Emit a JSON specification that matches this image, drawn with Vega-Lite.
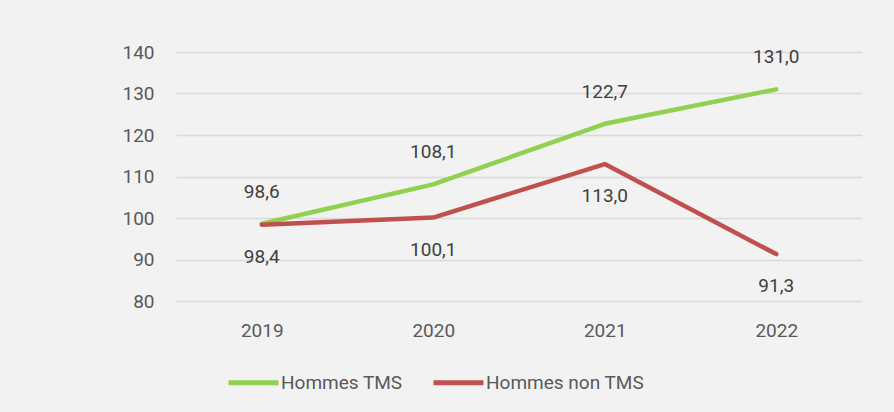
{
  "$schema": "https://vega.github.io/schema/vega-lite/v6.json",
  "width": 686,
  "height": 249,
  "autosize": {"type": "none"},
  "padding": {"left": 176, "top": 52, "right": 32, "bottom": 111},
  "background": "#f2f2f2",
  "config": {
    "view": {"stroke": null},
    "font": "Roboto",
    "locale": {"number": {"decimal": ",", "thousands": " ", "grouping": [3], "currency": ["", " €"]}}
  },
  "data": {
    "values": [
      {"year": "2019", "series": "Hommes TMS", "value": 98.6},
      {"year": "2020", "series": "Hommes TMS", "value": 108.1},
      {"year": "2021", "series": "Hommes TMS", "value": 122.7},
      {"year": "2022", "series": "Hommes TMS", "value": 131.0},
      {"year": "2019", "series": "Hommes non TMS", "value": 98.4},
      {"year": "2020", "series": "Hommes non TMS", "value": 100.1},
      {"year": "2021", "series": "Hommes non TMS", "value": 113.0},
      {"year": "2022", "series": "Hommes non TMS", "value": 91.3}
    ]
  },
  "encoding": {
    "x": {
      "field": "year", "type": "ordinal", "title": null,
      "scale": {"type": "point", "padding": 0.5},
      "axis": {"labelAngle": 0, "domain": false, "ticks": false, "labelFontSize": 19, "labelColor": "#595959", "labelPadding": 20}
    },
    "y": {
      "field": "value", "type": "quantitative", "title": null,
      "scale": {"domain": [80, 140], "nice": false, "zero": false},
      "axis": {"values": [80, 90, 100, 110, 120, 130, 140], "domain": false, "ticks": false, "labelFontSize": 19, "labelColor": "#595959", "labelPadding": 22, "gridColor": "#d9d9d9", "gridWidth": 1.5}
    }
  },
  "layer": [
    {
      "mark": {"type": "line", "strokeWidth": 4.5, "strokeCap": "round", "strokeJoin": "round"},
      "encoding": {
        "color": {
          "field": "series", "type": "nominal",
          "scale": {"domain": ["Hommes TMS", "Hommes non TMS"], "range": ["#92d050", "#c0504d"]},
          "legend": {
            "title": null, "orient": "none", "legendX": 50, "legendY": 303, "direction": "horizontal",
            "symbolType": "stroke", "symbolSize": 2500, "symbolStrokeWidth": 5,
            "labelFontSize": 19, "labelColor": "#595959", "labelOffset": 0, "columnPadding": 20
          }
        }
      }
    },
    {
      "transform": [{"filter": "datum.series === 'Hommes TMS'"}],
      "mark": {"type": "text", "dy": -32, "fontSize": 19, "color": "#404040", "baseline": "middle"},
      "encoding": {"text": {"field": "value", "type": "quantitative", "format": ".1f"}}
    },
    {
      "transform": [{"filter": "datum.series === 'Hommes non TMS'"}],
      "mark": {"type": "text", "dy": 32, "fontSize": 19, "color": "#404040", "baseline": "middle"},
      "encoding": {"text": {"field": "value", "type": "quantitative", "format": ".1f"}}
    }
  ]
}
